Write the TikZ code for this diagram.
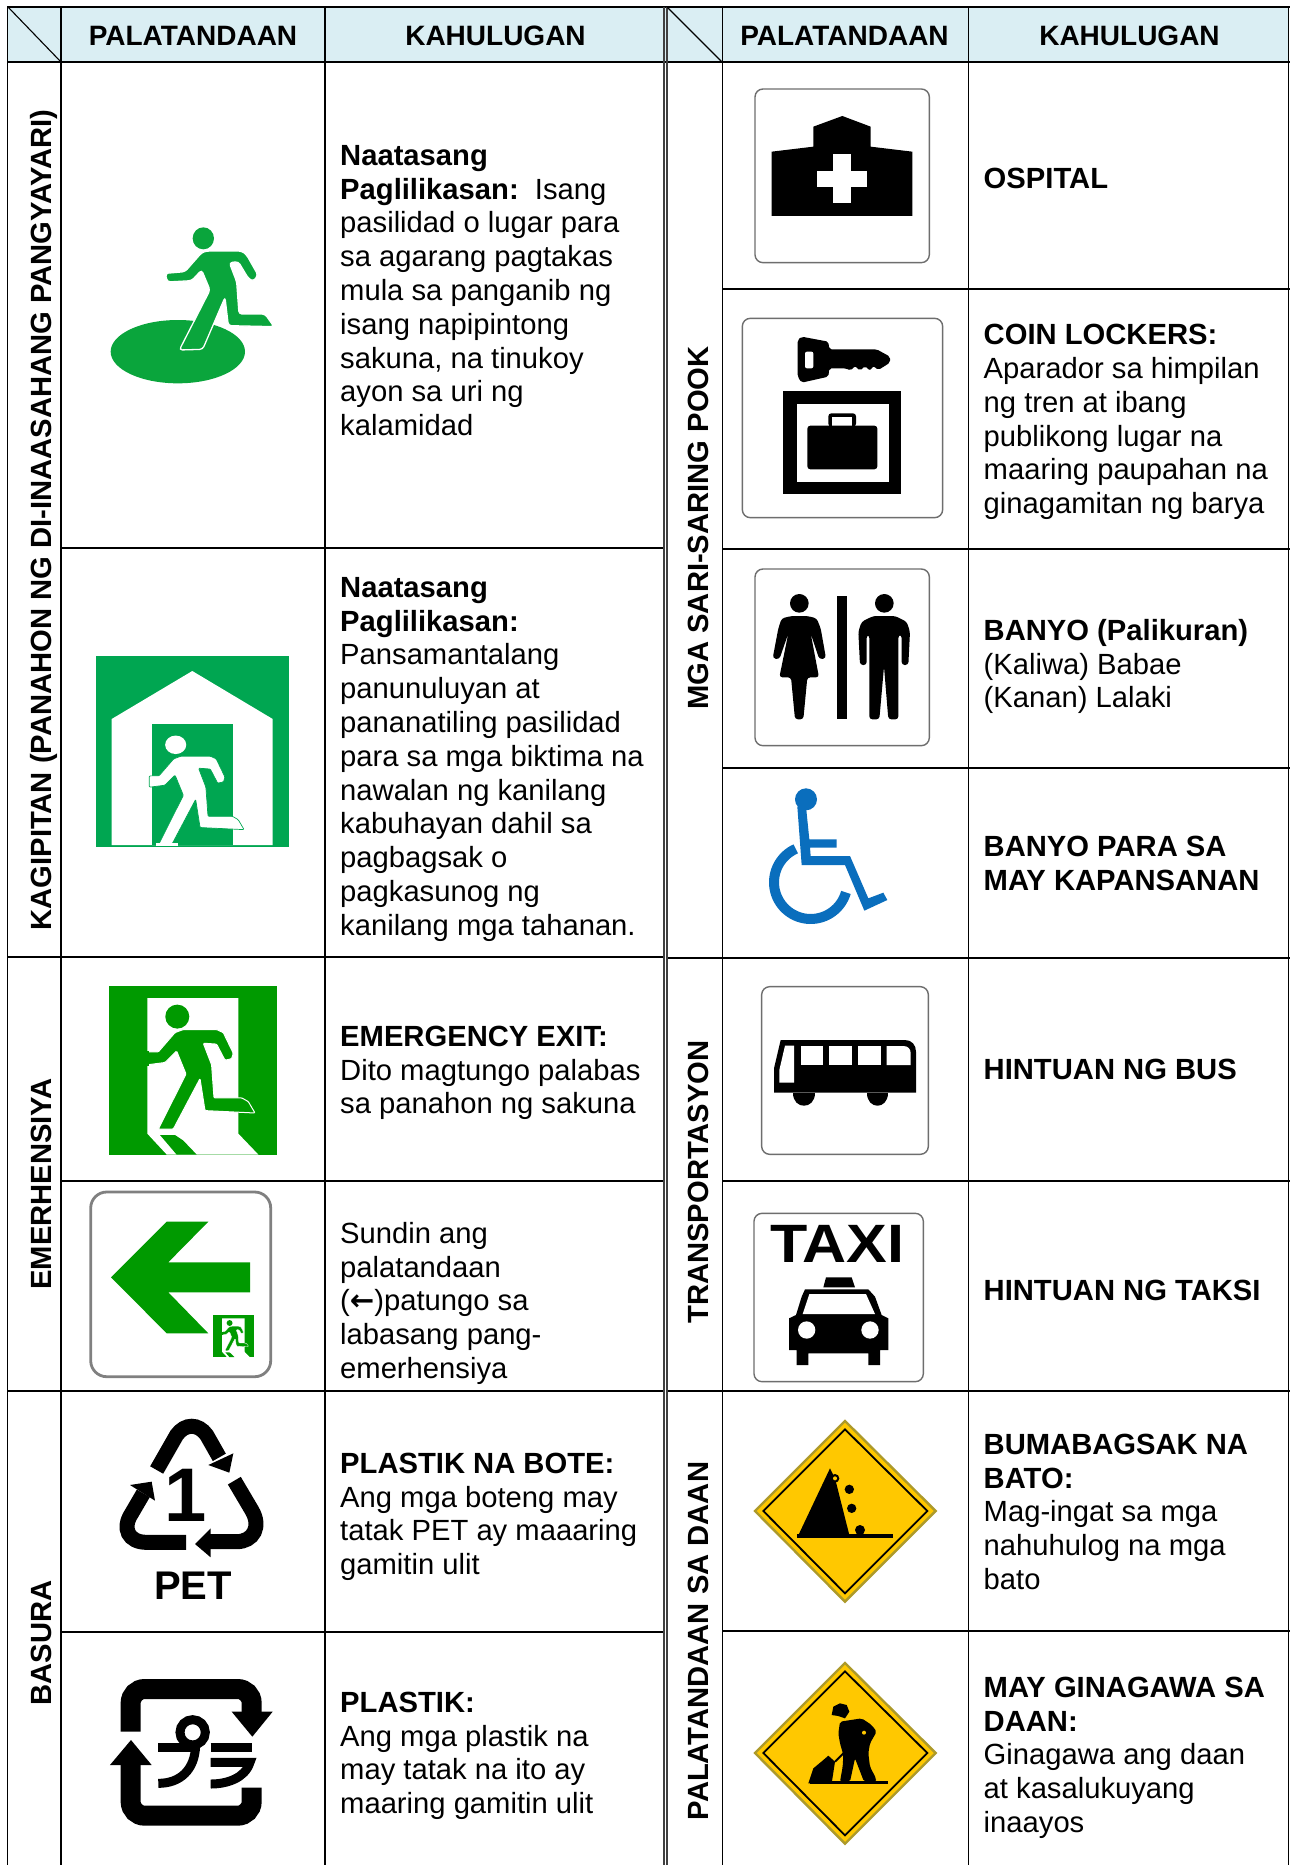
\documentclass[tikz,border=0pt]{standalone}
\usepackage{fontspec}
\setmainfont{Liberation Sans}
\newfontfamily\arrowfont{DejaVu Sans}
\definecolor{headblue}{HTML}{DAEEF3}
\definecolor{rungreen}{HTML}{0AA53C}
\definecolor{housegreen}{HTML}{00A651}
\definecolor{exitgreen}{HTML}{009A00}
\definecolor{chairblue}{HTML}{0A6EBD}
\definecolor{signyellow}{HTML}{FFC800}
\definecolor{signedge}{HTML}{AD9A2A}
\definecolor{framegray}{HTML}{6E6E6E}
\def\figbody{(-30,35.3) -- (-19,35.3) -- (-2.3,16) -- (6,12.9) -- (39.3,12.9) -- (46,16) -- (56,36.7) -- (54.3,42.2) -- (47.7,43.6) -- (39.3,27.5) -- (26,26.6) -- (34.3,48.2) -- (36.7,81.2) -- (64.3,81.2) -- (71,85) -- (77.7,96.4) -- (27.7,94) -- (22.7,62) -- (-4,112.5) -- (-19,112.5) -- (8.7,57.4) -- (-0.7,34.4) -- (-12.3,45.9) -- (-30,48.2) -- cycle}
\def\rr{\rule{0pt}{24pt}}
\tikzset{
 hline/.style={line width=2.4pt,black},
 vline/.style={line width=1.8pt,black},
 dline/.style={line width=1.2pt,black!75},
 diag/.style={line width=1.1pt,black},
 headtxt/.style={anchor=base,inner sep=0pt,font=\fontsize{28}{32}\selectfont\bfseries},
 sidetxt/.style={anchor=base,rotate=90,inner sep=0pt,font=\fontsize{29.2}{33}\selectfont\bfseries},
 celltxt/.style={anchor=north west,inner sep=0pt,yshift=24pt,align=left,font=\fontsize{29.2}{33.8}\selectfont},
 signframe/.style={draw=framegray,line width=1.4pt,fill=white,rounded corners=8pt},
 recyc/.style={draw=black,line width=15pt,line cap=butt},
 rebox/.style={draw=black,line width=20pt,rounded corners=14pt,line cap=butt},
 kana/.style={draw=black,line width=9pt,line cap=butt},
}
\newcommand{\exitsign}[1]{%
 \fill[exitgreen] (-68.6,-31.1) rectangle (100,137.9);
 \fill[white] (-30,-18.6) -- (61,-18.6) -- (61,117) -- (81,137.9) -- (-10.6,137.9) -- (-30,117) -- cycle;
 \path[fill=exitgreen,draw=white,line width=#1,rounded corners=1pt] \figbody;
 \fill[exitgreen] (-33,34.5) rectangle (-28,49);
 \fill[exitgreen] (0,0) circle (12);
 \fill[exitgreen] (-17.3,118.4) -- (-2.3,118.4) -- (6,124) -- (19.3,137.9) -- (-0.7,137.9) -- cycle;
}
\newcommand{\signdiamond}{%
 \path[fill=signyellow,draw=signedge,line width=2.4pt,line join=miter] (375,63) -- (647,333) -- (375,605) -- (105,333) -- cycle;
 \draw[black,line width=1.8pt] (375,88) -- (622,333) -- (375,580) -- (130,333) -- cycle;
}
\begin{document}
\begin{tikzpicture}[x=1pt,y=-1pt]
\useasboundingbox (0,0) rectangle (1295,1865);
\fill[white] (0,0) rectangle (1295,1865);
% header band
\fill[headblue] (8,7) rectangle (1288.5,62);
% horizontals
\draw[hline] (7,7) -- (1289.5,7);
\draw[hline] (7,62) -- (1289.5,62);
\draw[hline] (61,548) -- (664,548);
\draw[hline] (7,957) -- (664,957);
\draw[hline] (61,1181) -- (664,1181);
\draw[hline] (7,1391) -- (664,1391);
\draw[hline] (61,1632) -- (664,1632);
\draw[hline] (722,289) -- (1289.5,289);
\draw[hline] (722,549) -- (1289.5,549);
\draw[hline] (722,768) -- (1289.5,768);
\draw[hline] (667,958) -- (1289.5,958);
\draw[hline] (722,1181) -- (1289.5,1181);
\draw[hline] (667,1391) -- (1289.5,1391);
\draw[hline] (722,1631) -- (1289.5,1631);
% verticals
\draw[vline] (7.5,7) -- (7.5,1865);
\draw[vline] (61,7) -- (61,1865);
\draw[vline] (325,7) -- (325,1865);
\draw[dline] (664,7) -- (664,1865);
\draw[dline] (667,7) -- (667,1865);
\draw[vline] (722.5,7) -- (722.5,1865);
\draw[vline] (968.5,7) -- (968.5,1865);
\draw[vline] (1288.5,7) -- (1288.5,1865);
\draw[diag] (8,7) -- (61,62);
\draw[diag] (667,7) -- (722,62);
% headers
\node[headtxt] (h1) at (193,46) {PALATANDAAN};
\node[headtxt] (h2) at (495.5,46) {KAHULUGAN};
\node[headtxt] (h3) at (844.5,46) {PALATANDAAN};
\node[headtxt] (h4) at (1129.5,46) {KAHULUGAN};
% side labels
\node[sidetxt] (s1) at (51,520) {KAGIPITAN (PANAHON NG DI-INAASAHANG PANGYAYARI)};
\node[sidetxt] (s2) at (51,1184) {EMERHENSIYA};
\node[sidetxt] (s3) at (51,1643) {BASURA};
\node[sidetxt] (s4) at (708.7,528) {MGA SARI-SARING POOK};
\node[sidetxt] (s5) at (708.7,1182) {TRANSPORTASYON};
\node[sidetxt] (s6) at (708.7,1641) {PALATANDAAN SA DAAN};
% left text
\node[celltxt] (t1) at (340,165) {\rr\textbf{Naatasang}\\\textbf{Paglilikasan:}\ \ Isang\\pasilidad o lugar para\\sa agarang pagtakas\\mula sa panganib ng\\isang napipintong\\sakuna, na tinukoy\\ayon sa uri ng\\kalamidad};
\node[celltxt] (t2) at (340,597) {\rr\textbf{Naatasang}\\\textbf{Paglilikasan:}\\Pansamantalang\\panunuluyan at\\pananatiling pasilidad\\para sa mga biktima na\\nawalan ng kanilang\\kabuhayan dahil sa\\pagbagsak o\\pagkasunog ng\\kanilang mga tahanan.};
\node[celltxt] (t3) at (340,1046) {\rr\textbf{EMERGENCY EXIT:}\\Dito magtungo palabas\\sa panahon ng sakuna};
\node[celltxt] (t4) at (340,1243) {\rr Sundin ang\\palatandaan\\({\arrowfont\bfseries ←})patungo sa\\labasang pang-\\emerhensiya};
\node[celltxt] (t5) at (340,1473) {\rr\textbf{PLASTIK NA BOTE:}\\Ang mga boteng may\\tatak PET ay maaaring\\gamitin ulit};
\node[celltxt] (t6) at (340,1712) {\rr\textbf{PLASTIK:}\\Ang mga plastik na\\may tatak na ito ay\\maaring gamitin ulit};
% right text
\node[celltxt] (t7) at (983.5,188) {\rr\textbf{OSPITAL}};
\node[celltxt] (t8) at (983.5,344.5) {\rr\textbf{COIN LOCKERS:}\\Aparador sa himpilan\\ng tren at ibang\\publikong lugar na\\maaring paupahan na\\ginagamitan ng barya};
\node[celltxt] (t9) at (983.5,640) {\rr\textbf{BANYO (Palikuran)}\\(Kaliwa) Babae\\(Kanan) Lalaki};
\node[celltxt] (t10) at (983.5,856) {\rr\textbf{BANYO PARA SA}\\\textbf{MAY KAPANSANAN}};
\node[celltxt] (t11) at (983.5,1079) {\rr\textbf{HINTUAN NG BUS}};
\node[celltxt] (t12) at (983.5,1300) {\rr\textbf{HINTUAN NG TAKSI}};
\node[celltxt] (t13) at (983.5,1454) {\rr\textbf{BUMABAGSAK NA}\\\textbf{BATO:}\\Mag-ingat sa mga\\nahuhulog na mga\\bato};
\node[celltxt] (t14) at (983.5,1697) {\rr\textbf{MAY GINAGAWA SA}\\\textbf{DAAN:}\\Ginagawa ang daan\\at kasalukuyang\\inaayos};
% runner on disc
\begin{scope}[shift={(90,210)},scale=1/3]
\fill[rungreen] (263.5,425) ellipse (201.5 and 95);
\path[fill=rungreen,draw=white,line width=1.3pt,rounded corners=3pt] (226,190) -- (285,185) -- (335,128) -- (350,123) -- (455,123) -- (470,135) -- (504,195) -- (490,214) -- (475,205) -- (445,155) -- (418,158) -- (440,215) -- (447,312) -- (525,312) -- (552,350) -- (415,347) -- (405,262) -- (338,418) -- (268,420) -- (360,240) -- (335,180) -- (305,212) -- (232,216) -- cycle;
\fill[rungreen] (340,85) ellipse (32 and 33);
\end{scope}
% shelter sign
\fill[housegreen] (96,656) rectangle (289.3,846.7);
\fill[white] (111.7,845) -- (111.7,719) -- (192.3,671) -- (272.7,719) -- (272.7,845) -- cycle;
\fill[housegreen] (151.7,724) rectangle (232.7,844.5);
\begin{scope}[shift={(175.7,744.8)},scale=.88]
\path[fill=white,draw=housegreen,line width=.7pt,rounded corners=1pt] \figbody;
\fill[white] (0,0) ellipse (12 and 10.5);
\end{scope}
\fill[white] (156,843) rectangle (178,846);
% exit sign
\begin{scope}[shift={(177.3,1016.6)}]
\exitsign{1pt}
\end{scope}
% arrow sign
\draw[draw=black!50,line width=2.8pt,fill=white,rounded corners=16pt] (90.7,1192) rectangle (270.7,1376.7);
\fill[exitgreen] (111,1277.3) -- (166.7,1221.7) -- (208.3,1221.7) -- (168.3,1262.3) -- (250,1262.3) -- (250,1292.3) -- (168.3,1292.3) -- (208.3,1333.3) -- (166.7,1333.3) -- cycle;
\begin{scope}[shift={(229.6,1323)},scale=.247]
\exitsign{.3pt}
\end{scope}
% PET recycling
\begin{scope}[shift={(60,1180)},scale=1/3]
\draw[recyc] (290,870) -- (350,765) .. controls (375,730) and (415,730) .. (440,765) -- (478,832);
\fill[black] (445,855) -- (520,820) -- (508,878) -- cycle;
\draw[recyc] (378,1087) -- (260,1087) .. controls (205,1087) and (185,1045) .. (215,1000) -- (250,940);
\fill[black] (210,915) -- (275,905) -- (285,962) -- cycle;
\draw[recyc] (523,902) -- (575,990) .. controls (605,1040) and (580,1085) .. (530,1085) -- (445,1085);
\fill[black] (405,1092) -- (452,1045) -- (452,1132) -- cycle;
\node[inner sep=0pt,font=\fontsize{76}{80}\selectfont\bfseries] (petone) at (378,946) {1};
\node[inner sep=0pt,font=\fontsize{40}{42}\selectfont\bfseries] (pet) at (399,1218) {PET};
\end{scope}
% plastic recycling
\begin{scope}[shift={(0,1630)},scale=1/3]
\draw[rebox] (392,305) -- (392,177) -- (755,177) -- (755,250);
\fill[black] (695,245) -- (818,245) -- (757,320) -- cycle;
\draw[rebox] (755,473) -- (755,557) -- (392,557) -- (392,400);
\fill[black] (330,405) -- (455,405) -- (393,330) -- cycle;
\draw[kana] (578,307) circle (38);
\draw[kana] (475,352) -- (590,352);
\draw[kana] (587,345) .. controls (585,420) and (540,460) .. (475,460);
\draw[kana] (632,352) -- (755,352);
\draw[kana] (632,397) -- (750,397) .. controls (735,445) and (680,462) .. (632,462);
\end{scope}
% hospital and lockers
\begin{scope}[shift={(720,60)},scale=1/3]
\draw[signframe] (105,87) rectangle (628,608);
\fill[black] (155,468) -- (155,275) -- (280,260) -- (280,200) -- (367,168) -- (452,200) -- (452,260) -- (577,275) -- (577,468) -- cycle;
\fill[white] (340,283) rectangle (392,430);
\fill[white] (292,332) rectangle (440,381);
\draw[signframe] (67,775) rectangle (668,1373);
\fill[black,rounded corners=2pt] (245,830) -- (325,845) -- (328,868) -- (470,868) -- (510,890) -- (510,908) -- (475,930) -- (460,918) -- (450,932) -- (435,918) -- (420,932) -- (405,918) -- (392,932) -- (378,925) -- (328,925) -- (325,950) -- (245,968) -- (233,950) -- (233,840) -- cycle;
\fill[white,rounded corners=2pt] (255,875) rectangle (280,925);
\fill[black] (190,993) rectangle (544,1303);
\fill[white] (230,1033) rectangle (507,1266);
\fill[black,rounded corners=3pt] (325,1100) -- (325,1060) -- (408,1060) -- (408,1100) -- cycle;
\fill[white] (337,1072) rectangle (395,1100);
\fill[black,rounded corners=3pt] (262,1097) rectangle (472,1228);
\end{scope}
% restroom and wheelchair
\begin{scope}[shift={(720,550)},scale=1/3]
\draw[signframe] (105,57) rectangle (628,587);
\fill[black] (350,138) rectangle (380,508);
\fill[black] (238,160) circle (28);
\fill[black,rounded corners=3pt] (215,198) -- (262,198) -- (290,205) -- (302,235) -- (318,325) -- (298,328) -- (272,250) -- (297,382) -- (262,382) -- (250,508) -- (225,508) -- (213,382) -- (178,382) -- (205,250) -- (178,328) -- (158,325) -- (175,235) -- (185,205) -- cycle;
\fill[black] (493,160) circle (28);
\fill[black,rounded corners=3pt] (460,198) -- (525,198) -- (560,215) -- (570,245) -- (565,345) -- (545,345) -- (545,255) -- (535,255) -- (535,508) -- (505,508) -- (492,350) -- (478,508) -- (448,508) -- (448,255) -- (440,255) -- (440,345) -- (420,345) -- (415,245) -- (425,215) -- cycle;
\fill[chairblue] (258,748) circle (33);
\fill[chairblue] (232,770) -- (258,770) -- (268,868) -- (350,868) -- (350,893) -- (270,893) -- (272,918) -- (390,918) -- (445,1045) -- (490,1028) -- (502,1050) -- (433,1082) -- (375,945) -- (245,945) -- cycle;
\draw[chairblue,line width=10pt] plot[domain=114:344,samples=50] ({272+110*cos(\x)},{997-110*sin(\x)});
\end{scope}
% bus
\begin{scope}[shift={(720,960)},scale=1/3]
\draw[signframe] (125,80) rectangle (625,583);
\fill[black] (182,240) -- (555,240) .. controls (575,240) and (588,255) .. (588,275) -- (588,398) -- (162,398) -- (162,325) -- cycle;
\fill[black] (218,398) .. controls (218,450) and (285,450) .. (285,398) -- cycle;
\fill[black] (440,398) .. controls (440,450) and (505,450) .. (505,398) -- cycle;
\fill[white] (195,257) -- (222,257) -- (222,368) -- (178,368) -- (178,330) -- cycle;
\fill[white] (243,258) rectangle (308,315);
\fill[white] (328,258) rectangle (395,315);
\fill[white] (415,258) rectangle (482,315);
\fill[white] (500,258) -- (550,258) .. controls (565,258) and (572,268) .. (572,280) -- (572,315) -- (500,315) -- cycle;
\end{scope}
% taxi
\begin{scope}[shift={(740,1200)},scale=1/3]
\draw[signframe] (42,40) rectangle (550,545);
\node[inner sep=0pt,font=\fontsize{54}{58}\selectfont\bfseries] (taxi) at (292,131) {\scalebox{1.13}[1]{TAXI}};
\fill[black] (250,262) -- (258,232) -- (335,232) -- (345,262) -- cycle;
\fill[black] (195,268) -- (385,268) -- (405,290) -- (425,345) -- (445,355) -- (445,450) -- (420,450) -- (420,495) -- (385,495) -- (385,460) -- (205,460) -- (205,495) -- (170,495) -- (170,450) -- (147,450) -- (147,355) -- (168,345) -- (185,290) -- cycle;
\fill[white] (208,282) -- (378,282) -- (405,342) -- (188,342) -- cycle;
\fill[white] (200,390) circle (26);
\fill[white] (390,390) circle (26);
\end{scope}
% rockfall diamond
\begin{scope}[shift={(720,1400)},scale=1/3]
\signdiamond
\fill[black] (232,412) -- (330,205) -- (345,235) -- (388,405) -- (388,412) -- cycle;
\fill[black] (232,403) rectangle (520,414);
\fill[black] (345,235) circle (13);
\fill[signyellow] (345,235) circle (6);
\fill[black] (388,268) circle (14);
\fill[black] (395,325) circle (14);
\fill[black] (420,390) circle (15);
\end{scope}
% roadwork diamond
\begin{scope}[shift={(720,1642)},scale=1/3]
\signdiamond
\end{scope}
\begin{scope}[shift={(790,1690)},scale=1/3]
\fill[black] (125,75) -- (130,50) -- (150,40) -- (170,45) -- (178,65) -- (165,85) -- (145,78) -- cycle;
\fill[black,rounded corners=2pt] (150,95) -- (215,85) -- (245,105) -- (260,125) -- (240,160) -- (235,190) -- (240,230) -- (258,265) -- (258,275) -- (222,275) -- (195,205) -- (180,275) -- (150,275) -- (158,230) -- (160,195) -- (150,160) -- (145,130) -- cycle;
\draw[black,line width=2pt] (150,130) -- (165,185) -- (135,215);
\fill[black] (55,280) -- (70,235) -- (100,210) -- (115,197) -- (135,215) -- (125,280) -- cycle;
\fill[black] (60,274) rectangle (293,281);
\fill[signyellow] (222,128) circle (6);
\end{scope}
\end{tikzpicture}
\end{document}
